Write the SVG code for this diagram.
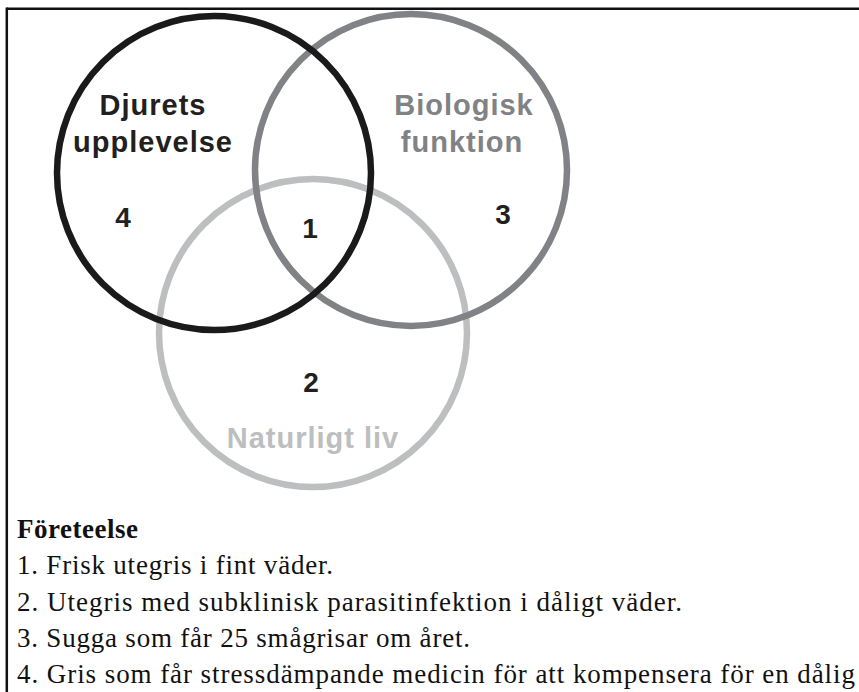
<svg xmlns="http://www.w3.org/2000/svg" width="859" height="692" viewBox="0 0 859 692">
<style>
.ring{fill:none;stroke-width:6.5}
.lbl{font-family:"Liberation Sans",Arial,sans-serif;font-weight:bold;font-size:29px;letter-spacing:1px;text-anchor:middle}
.num{font-family:"Liberation Sans",Arial,sans-serif;font-weight:bold;font-size:28px;fill:#231f20;text-anchor:middle}
.ft{font-family:"Liberation Serif","Times New Roman",serif;font-size:27px;fill:#111}
</style>
<rect x="0" y="0" width="859" height="692" fill="#fff"/>
<g id="frame" stroke="#111" stroke-width="2.5" fill="none">
<line x1="6.8" y1="8.7" x2="859" y2="8.7"/>
<line x1="6.8" y1="7.5" x2="6.8" y2="692"/>
</g>
<g id="naturligt-liv">
<circle class="ring" cx="313" cy="333" r="154" stroke="#bcbec0"/>
<text class="lbl" x="313" y="448" fill="#bcbec0">Naturligt liv</text>
</g>
<g id="biologisk-funktion">
<circle class="ring" cx="411" cy="170" r="156" stroke="#808285"/>
<text class="lbl" x="464" y="115" fill="#808285">Biologisk</text>
<text class="lbl" x="462" y="152" fill="#808285">funktion</text>
</g>
<g id="djurets-upplevelse">
<circle class="ring" cx="214" cy="173" r="157" stroke="#1a1a1a"/>
<text class="lbl" x="153" y="115" fill="#231f20">Djurets</text>
<text class="lbl" x="153" y="152" fill="#231f20">upplevelse</text>
</g>
<g id="numbers">
<text class="num" x="123" y="227">4</text>
<text class="num" x="310" y="238">1</text>
<text class="num" x="503" y="224">3</text>
<text class="num" x="311" y="392">2</text>
</g>
<g id="legend">
<text class="ft" x="17" y="538" font-weight="bold" textLength="121" lengthAdjust="spacing">Företeelse</text>
<text class="ft" x="17" y="574" textLength="316" lengthAdjust="spacing">1. Frisk utegris i fint väder.</text>
<text class="ft" x="17" y="611" textLength="665" lengthAdjust="spacing">2. Utegris med subklinisk parasitinfektion i dåligt väder.</text>
<text class="ft" x="17" y="647" textLength="453" lengthAdjust="spacing">3. Sugga som får 25 smågrisar om året.</text>
<text class="ft" x="17" y="683" textLength="838" lengthAdjust="spacing">4. Gris som får stressdämpande medicin för att kompensera för en dålig</text>
</g>
</svg>
